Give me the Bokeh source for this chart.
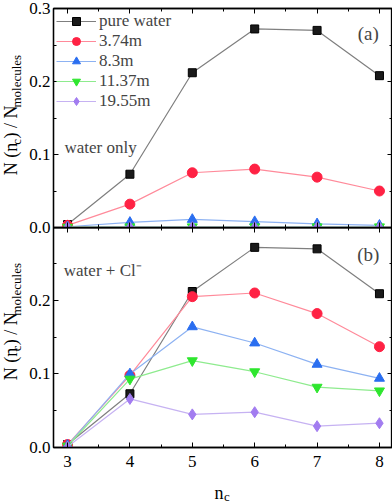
import math
from bokeh.plotting import figure
from bokeh.layouts import column, row
from bokeh.models import (Range1d, LinearAxis, Label, Legend, LegendItem,
                          NumeralTickFormatter, FixedTicker, CustomJSTickFormatter)
from bokeh.core.properties import value
from bokeh.embed import file_html
from bokeh.resources import INLINE

# ---------------- data ----------------
nc = [3, 4, 5, 6, 7, 8]
series_names = ["pure water", "3.74m", "8.3m", "11.37m", "19.55m"]

# panel (a): water only
a_pure = [0.004, 0.073, 0.212, 0.272, 0.270, 0.208]
a_374 = [0.003, 0.032, 0.075, 0.080, 0.069, 0.050]
a_83 = [0.001, 0.007, 0.011, 0.008, 0.005, 0.003]
a_1137 = [0.0005, 0.001, 0.001, 0.001, 0.001, 0.001]
a_1955 = [0.0003, 0.0005, 0.0005, 0.0005, 0.0005, 0.0005]

# panel (b): water + Cl-
b_pure = [0.004, 0.073, 0.212, 0.272, 0.270, 0.209]
b_374 = [0.004, 0.098, 0.205, 0.210, 0.182, 0.137]
b_83 = [0.003, 0.100, 0.164, 0.142, 0.113, 0.094]
b_1137 = [0.002, 0.093, 0.118, 0.103, 0.082, 0.077]
b_1955 = [0.001, 0.066, 0.045, 0.048, 0.029, 0.033]

y_ticks = [0.0, 0.1, 0.2, 0.3]
x_ticks = [3, 4, 5, 6, 7, 8]

marker_kinds = ["square", "circle", "triangle", "inverted_triangle", "diamond"]
marker_fill = ["#1a1a1a", "#ff2244", "#2a6ef0", "#2ee62e", "#a27cf0"]
marker_line = ["#000000", "#ff2244", "#2a6ef0", "#2ee62e", "#a27cf0"]
line_cols = ["#7f7f7f", "#ff8a9a", "#8db2f2", "#8eeb8e", "#c6b2f2"]
marker_sizes = [8, 10, 10, 10, 11]

FONT = "Liberation Serif"
XR = (2.775, 8.209)
LAB_W = 26
MAIN_W = 366
TOP_H = 237
TOP_BOTTOM_BORDER = 10
OVERLAP = 10
BOT_H = 250
NC_H = 26


def style_axis(ax, show_labels=True, xaxis=True):
    ax.axis_line_color = "black"
    ax.axis_line_width = 1.3
    ax.major_tick_in = 5
    ax.major_tick_out = 0
    ax.minor_tick_in = 3
    ax.minor_tick_out = 0
    ax.major_tick_line_color = "black"
    ax.minor_tick_line_color = "black"
    ax.major_label_text_font = FONT
    ax.major_label_text_font_size = "17px"
    ax.major_label_text_color = "black"
    if xaxis:
        ax.ticker = FixedTicker(ticks=x_ticks, minor_ticks=[3.5, 4.5, 5.5, 6.5, 7.5])
    else:
        ax.ticker = FixedTicker(ticks=y_ticks, minor_ticks=[0.05, 0.15, 0.25])
        ax.formatter = NumeralTickFormatter(format="0.0")
    if not show_labels:
        ax.formatter = CustomJSTickFormatter(code="return '';")
        ax.major_label_text_font_size = "0px"
        ax.major_label_standoff = 0


def make_panel(height, y_end, top_border, bottom_border, show_x_labels, data):
    p = figure(width=MAIN_W, height=height, output_backend="svg",
               toolbar_location=None, x_range=Range1d(*XR),
               y_range=Range1d(0.0, y_end),
               x_axis_location=None, y_axis_location=None,
               min_border_left=26, min_border_right=0,
               min_border_top=top_border, min_border_bottom=bottom_border)
    p.grid.visible = False
    p.outline_line_color = "black"
    p.outline_line_width = 1.3
    p.background_fill_alpha = 0
    p.border_fill_alpha = 0

    bx = LinearAxis()
    style_axis(bx, show_x_labels, True)
    if show_x_labels:
        bx.major_label_standoff = 8
    p.add_layout(bx, "below")
    tx = LinearAxis()
    style_axis(tx, False, True)
    p.add_layout(tx, "above")
    ly = LinearAxis()
    style_axis(ly, True, False)
    ly.major_label_standoff = 3
    p.add_layout(ly, "left")
    ry = LinearAxis()
    style_axis(ry, False, False)
    p.add_layout(ry, "right")

    items = []
    for i, ys in enumerate(data):
        lr = p.line(nc, ys, line_color=line_cols[i], line_width=1.2)
        sr = p.scatter(nc, ys, marker=marker_kinds[i], size=marker_sizes[i],
                       fill_color=marker_fill[i], line_color=marker_line[i])
        items.append(LegendItem(label=series_names[i], renderers=[lr, sr]))
    return p, items


def blank_fig(w, h):
    f = figure(width=w, height=h, output_backend="svg", toolbar_location=None,
               x_range=Range1d(0, w), y_range=Range1d(0, h),
               x_axis_location=None, y_axis_location=None,
               min_border=0, min_border_left=0, min_border_right=0,
               min_border_top=0, min_border_bottom=0)
    f.grid.visible = False
    f.outline_line_color = None
    f.background_fill_alpha = 0
    f.border_fill_alpha = 0
    return f


def ylabel_fig(h, y_center):
    # rotated composed label: N (n_c) / N_molecules
    f = blank_fig(LAB_W, h)
    big, small = 18, 13
    pieces = [("N (n", big, 10), ("c", small, 16), (") / N", big, 10), ("molecules", small, 16)]
    widths = [1.805 * big + 0.5, 0.444 * small + 1.0, 1.833 * big + 0.5, 4.055 * small]
    acc = y_center - sum(widths) / 2
    for (txt, fs, xpos), w in zip(pieces, widths):
        f.text(x=[xpos], y=[acc], text=[txt], angle=math.pi / 2,
               text_font=value(FONT), text_font_size=f"{fs}px",
               text_color="black", text_align="left",
               text_baseline="middle")
        acc += w
    return f


# ---------------- top panel ----------------
top, items = make_panel(TOP_H, 0.3, 8, TOP_BOTTOM_BORDER, False,
                        [a_pure, a_374, a_83, a_1137, a_1955])
legend = Legend(items=items, location="top_left", border_line_alpha=0,
                background_fill_alpha=0, glyph_width=40, glyph_height=20,
                label_height=20, spacing=0, padding=1, margin=2,
                label_standoff=3, label_text_font=FONT,
                label_text_font_size="17px")
top.add_layout(legend)
top.add_layout(Label(x=2.95, y=0.11, text="water only", text_font=FONT,
                     text_font_size="17px", text_baseline="middle"))
top.add_layout(Label(x=7.82, y=0.266, text="(a)", text_font=FONT,
                     text_font_size="19px", text_align="center",
                     text_baseline="middle"))

# ---------------- bottom panel ----------------
bot, _ = make_panel(BOT_H, 0.299, 0, 30, True, [b_pure, b_374, b_83, b_1137, b_1955])
bot.add_layout(Label(x=2.94, y=0.24, text="water + Cl\u207b", text_font=FONT,
                     text_font_size="17px", text_baseline="middle"))
bot.add_layout(Label(x=7.82, y=0.262, text="(b)", text_font=FONT,
                     text_font_size="19px", text_align="center",
                     text_baseline="middle"))

# x-axis label n_c
ncf = blank_fig(MAIN_W, NC_H)
ncf.text(x=[197], y=[11], text=["n"], text_font=value(FONT), text_font_size="18px",
         text_align="right", text_baseline="alphabetic", text_color="black")
ncf.text(x=[197.5], y=[7], text=["c"], text_font=value(FONT), text_font_size="13px",
         text_align="left", text_baseline="alphabetic", text_color="black")

lab_top = ylabel_fig(TOP_H, TOP_H - 117.5)
lab_bot = ylabel_fig(BOT_H, BOT_H - (337.5 - (TOP_H - OVERLAP)))

row_top = row(lab_top, top, spacing=0)
row_bot = row(lab_bot, bot, spacing=0)
row_bot.margin = (-OVERLAP, 0, 0, 0)
row_nc = row(blank_fig(LAB_W, NC_H), ncf, spacing=0)

layout = column(row_top, row_bot, row_nc, spacing=0)
open("out.html", "w").write(file_html(layout, INLINE))
